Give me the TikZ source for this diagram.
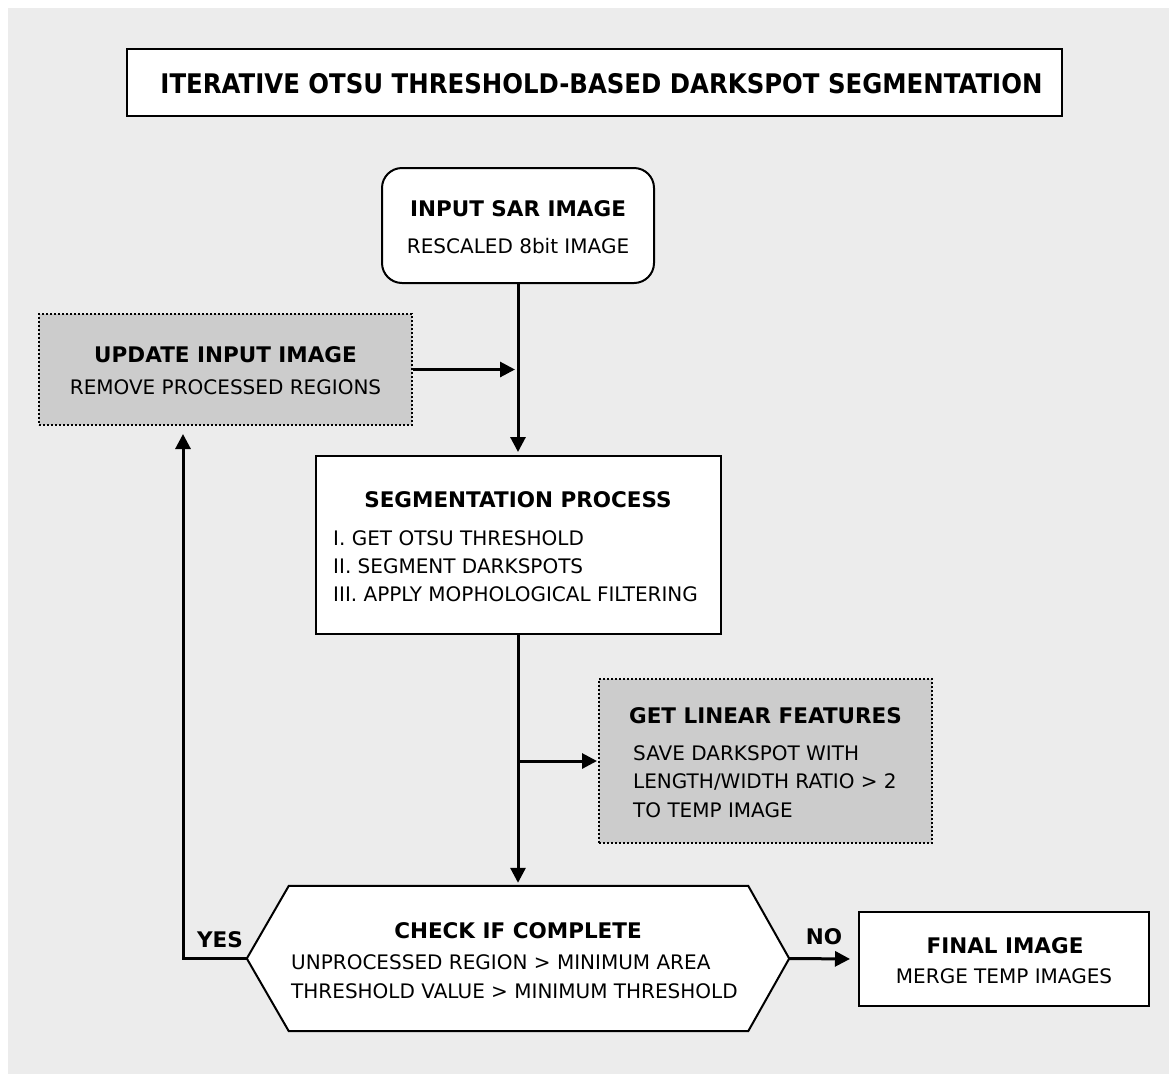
\documentclass[tikz,border=0pt]{standalone}
\usepackage{fontspec}
\setmainfont{DejaVu Sans}
\newfontfamily\condfont{DejaVu Sans}[FakeStretch=0.904]
\usetikzlibrary{arrows.meta,calc}
\definecolor{bg}{HTML}{ECECEC}
\definecolor{boxgray}{HTML}{CCCCCC}
\begin{document}
\begin{tikzpicture}[x=1pt,y=-1pt,
  box/.style={draw=black, line width=2pt, fill=white, inner sep=0pt},
  graybox/.style={draw=black, line width=2pt, dash pattern=on 2pt off 2pt, fill=boxgray, inner sep=0pt},
  hd/.style={font=\bfseries\fontsize{21.5}{26}\selectfont, inner sep=0pt, anchor=base},
  tx/.style={font=\fontsize{20}{24}\selectfont, inner sep=0pt, anchor=base},
  txl/.style={tx, anchor=base west},
  conn/.style={line width=3pt, line join=miter},
  arr/.style={conn, -{Triangle[length=15pt,width=15pt]}}
]
\useasboundingbox (0,0) rectangle (1169,1074);
\fill[bg] (8,8) rectangle (1169,1074);

% title
\node[box, minimum width=935pt, minimum height=67pt] (titlebox) at (594.5,82.5) {};
\node[font=\condfont\bfseries\fontsize{27}{32}\selectfont, inner sep=0pt, anchor=base] (title) at (601.5,93) {ITERATIVE OTSU THRESHOLD-BASED DARKSPOT SEGMENTATION};

% input
\node[box, rounded corners=20pt, minimum width=272pt, minimum height=115pt] (input) at (518,225.5) {};
\node[hd] (inputh) at (518,216) {INPUT SAR IMAGE};
\node[tx] (inputt) at (518,253) {RESCALED 8bit IMAGE};

% update
\node[graybox, minimum width=373pt, minimum height=111pt] (update) at (225.5,369.5) {};
\node[hd] (updateh) at (225.5,362) {UPDATE INPUT IMAGE};
\node[tx] (updatet) at (225.5,394) {REMOVE PROCESSED REGIONS};

% segmentation
\node[box, minimum width=405pt, minimum height=178pt] (seg) at (518.5,545) {};
\node[hd] (segh) at (518,507) {SEGMENTATION PROCESS};
\node[txl] (seg1) at (333,545) {I. GET OTSU THRESHOLD};
\node[txl] (seg2) at (333,573) {II. SEGMENT DARKSPOTS};
\node[txl] (seg3) at (333,601) {III. APPLY MOPHOLOGICAL FILTERING};

% linear features
\node[graybox, minimum width=333pt, minimum height=164pt] (linear) at (765.5,761) {};
\node[hd] (linearh) at (765.5,723) {GET LINEAR FEATURES};
\node[txl] (linear1) at (633,760) {SAVE DARKSPOT WITH};
\node[txl] (linear2) at (633,788) {LENGTH/WIDTH RATIO > 2};
\node[txl] (linear3) at (633,817) {TO TEMP IMAGE};

% check hexagon
\node[minimum width=542pt, minimum height=145pt, inner sep=0pt] (hex) at (518,958.5) {};
\draw[box] (hex.west) -- ($(hex.north west)+(42,0)$) -- ($(hex.north east)+(-41,0)$) -- (hex.east)
  -- ($(hex.south east)+(-41,0)$) -- ($(hex.south west)+(42,0)$) -- cycle;
\node[hd] (hexh) at (518,938) {CHECK IF COMPLETE};
\node[txl] (hex1) at (291,969) {UNPROCESSED REGION > MINIMUM AREA};
\node[txl] (hex2) at (291,998) {THRESHOLD VALUE > MINIMUM THRESHOLD};

% final
\node[box, minimum width=290pt, minimum height=94pt] (final) at (1004,959) {};
\node[hd] (finalh) at (1005,953) {FINAL IMAGE};
\node[tx] (finalt) at (1004,983) {MERGE TEMP IMAGES};

% labels
\node[hd] (yes) at (220,947) {YES};
\node[hd] (no) at (824,944) {NO};

% connectors
\coordinate (join) at (input.south |- update.east);
\coordinate (branch) at (input.south |- linear.west);
\coordinate (ycorner) at (183,958.5);
\draw[arr, shorten >=3pt] (input.south) -- (input.south |- seg.north);
\draw[arr, shorten >=3pt] (update.east) -- (join);
\draw[arr, shorten >=3pt] (input.south |- seg.south) -- (input.south |- hex.north);
\draw[arr, shorten >=1pt] (branch) -- (linear.west);
\draw[arr, shorten >=8pt] (hex.west) -- (ycorner) -- (ycorner |- update.south);
\draw[arr, shorten >=8pt] (hex.east) -- (final.west);
\end{tikzpicture}
\end{document}
